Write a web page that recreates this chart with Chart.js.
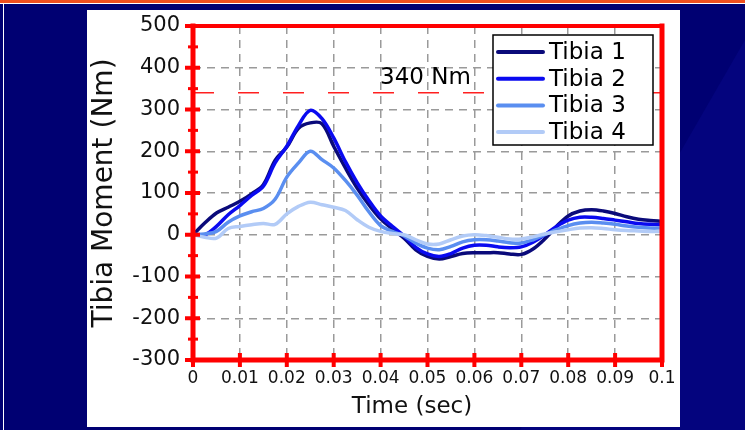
<!DOCTYPE html>
<html>
<head>
<meta charset="utf-8">
<script src="https://cdn.jsdelivr.net/npm/chart.js@4/dist/chart.umd.min.js"></script>
<style>
  html, body { margin: 0; padding: 0; background: #000070; }
  canvas { display: block; }
</style>
</head>
<body>
<canvas id="myChart" width="745" height="430"></canvas>
<script>
// time axis (sec)
var timeValues = [0, 0.0025, 0.005, 0.0075, 0.01, 0.0125, 0.015, 0.0175, 0.02, 0.0225,
  0.025, 0.0275, 0.03, 0.0325, 0.035, 0.0375, 0.04, 0.0425, 0.045, 0.0475,
  0.05, 0.0525, 0.055, 0.0575, 0.06, 0.0625, 0.065, 0.0675, 0.07, 0.0725,
  0.075, 0.0775, 0.08, 0.0825, 0.085, 0.0875, 0.09, 0.0925, 0.095, 0.0975, 0.1]

var seriesNames = ['Tibia 1', 'Tibia 2', 'Tibia 3', 'Tibia 4']
var seriesColors = ['#0a0a7a', '#0a0af0', '#5a8ef0', '#b2cbf7']

// tibia moment (Nm)
var tibia1 = [0, 28, 52, 66, 80, 98, 120, 178, 210, 255, 268, 266, 212, 160, 112, 72, 38, 14, -8, -36,
  -52, -58, -52, -45, -43, -43, -43, -46, -47, -34, -10, 20, 45, 57, 60, 57, 51, 43, 37, 34, 32]
var tibia2 = [0, 0, 20, 48, 70, 94, 116, 172, 212, 262, 298, 278, 232, 175, 125, 82, 45, 20, -3, -30,
  -46, -52, -45, -32, -25, -25, -29, -31, -29, -18, 0, 20, 35, 42, 42, 39, 35, 31, 27, 25, 24]
var tibia3 = [0, 2, 8, 30, 45, 55, 63, 85, 138, 172, 200, 180, 160, 130, 95, 55, 22, 8, -3, -20,
  -32, -36, -28, -17, -12, -12, -15, -19, -20, -12, 0, 12, 22, 28, 30, 28, 25, 21, 18, 16, 16]
var tibia4 = [0, -6, -8, 15, 20, 24, 27, 25, 50, 68, 78, 72, 66, 58, 36, 18, 8, 3, 0, -12,
  -22, -22, -12, -3, 0, -2, -6, -10, -10, -5, 2, 7, 12, 16, 17, 15, 12, 10, 9, 8, 8]

var thresholdValue = 340
var thresholdLabel = '340 Nm'

var xTickLabels = ['0', '0.01', '0.02', '0.03', '0.04', '0.05', '0.06', '0.07', '0.08', '0.09', '0.1']
var yTickLabels = ['-300', '-200', '-100', '0', '100', '200', '300', '400', '500']

var FONT = "'DejaVu Sans', 'Liberation Sans', Arial, sans-serif"

function toPoints(vals) {
  return timeValues.map(function (t, i) { return { x: t, y: vals[i] } })
}

var allSeries = [tibia1, tibia2, tibia3, tibia4]
var datasets = allSeries.map(function (vals, i) {
  return {
    label: seriesNames[i],
    data: toPoints(vals),
    borderColor: seriesColors[i],
    borderWidth: 3.5,
    pointRadius: 0,
    tension: 0.35,
    fill: false,
    order: 3 - i
  }
})
datasets.push({
  label: 'limit',
  data: [{ x: timeValues[0], y: thresholdValue }, { x: timeValues[timeValues.length - 1], y: thresholdValue }],
  borderColor: '#ff2020',
  borderWidth: 1.5,
  borderDash: [21, 24],
  pointRadius: 0,
  order: 10
})

var pagePlugin = {
  id: 'page',
  beforeDraw: function (chart) {
    var c = chart.ctx
    c.save()
    c.fillStyle = '#000072'
    c.fillRect(0, 0, 745, 430)
    // subtle diagonal shading on the right
    c.fillStyle = '#04047e'
    c.beginPath()
    c.moveTo(745, 40); c.lineTo(745, 430); c.lineTo(520, 430); c.closePath()
    c.fill()
    c.fillStyle = '#f0501e'
    c.fillRect(0, 0, 745, 3)
    c.fillStyle = '#ffffff'
    c.fillRect(0, 3, 745, 1)
    c.fillRect(3, 3, 1, 427)
    // white panel
    c.fillRect(87, 10, 593, 417)
    c.restore()
  },
  afterDraw: function (chart) {
    var c = chart.ctx
    var a = chart.chartArea
    var xs = chart.scales.x
    var ys = chart.scales.y
    c.save()
    // red frame
    c.strokeStyle = '#ff0000'
    c.lineCap = 'square'
    c.lineWidth = 4
    c.beginPath()
    c.moveTo(a.left, a.top); c.lineTo(a.right, a.top)
    c.stroke()
    c.lineWidth = 5
    c.beginPath()
    c.moveTo(a.right, a.top); c.lineTo(a.right, a.bottom)
    c.lineTo(a.left, a.bottom); c.lineTo(a.left, a.top)
    c.stroke()
    // red tick marks
    c.fillStyle = '#ff0000'
    for (var v = -300; v <= 500; v += 50) {
      var py = ys.getPixelForValue(v)
      if (v % 100 === 0) c.fillRect(a.left - 8, py - 2, 15, 4)
      else c.fillRect(a.left - 5, py - 1.5, 10, 3)
    }
    for (var k = 0; k <= 10; k++) {
      var px = xs.getPixelForValue(k / 100)
      c.fillRect(px - 2, a.bottom - 7, 4, 14)
    }
    // threshold label
    c.fillStyle = '#000000'
    c.font = '23px ' + FONT
    c.textBaseline = 'middle'
    c.textAlign = 'left'
    c.fillText(thresholdLabel, 380, 78)
    // x axis title (sits a little left of centre in the original)
    c.fillStyle = '#111111'
    c.textAlign = 'center'
    c.fillText('Time (sec)', 412, 407)
    // legend
    var lx = 493, ly = 35, lw = 160, lh = 110
    c.textAlign = 'left'
    c.fillStyle = '#ffffff'
    c.fillRect(lx, ly, lw, lh)
    c.strokeStyle = '#000000'
    c.lineWidth = 1.5
    c.strokeRect(lx, ly, lw, lh)
    c.font = '23px ' + FONT
    c.lineCap = 'round'
    for (var i = 0; i < seriesNames.length; i++) {
      var cy = ly + 17 + i * 26.7
      c.strokeStyle = seriesColors[i]
      c.lineWidth = 4
      c.beginPath()
      c.moveTo(lx + 5, cy); c.lineTo(lx + 50, cy)
      c.stroke()
      c.fillStyle = '#000000'
      c.fillText(seriesNames[i], lx + 56, cy + 1)
    }
    c.restore()
  }
}

var ctx = document.getElementById('myChart').getContext('2d')
var myChart = new Chart(ctx, {
  type: 'line',
  data: { datasets: datasets },
  options: {
    responsive: false,
    animation: false,
    devicePixelRatio: 1,
    layout: { padding: { left: 88, right: 83, top: 26, bottom: 3 } },
    plugins: { legend: { display: false }, tooltip: { enabled: false } },
    scales: {
      x: {
        type: 'linear',
        min: 0,
        max: 0.1,
        afterFit: function (s) { s.height = 67 },
        afterBuildTicks: function (s) {
          s.ticks = xTickLabels.map(function (t) { return { value: parseFloat(t) } })
        },
        ticks: {
          padding: 8,
          color: '#111111',
          font: { family: FONT, size: 17 },
          maxRotation: 0,
          autoSkip: false,
          callback: function (val, idx) { return xTickLabels[idx] }
        },
        grid: { color: '#9a9a9a', lineWidth: 1.5, drawTicks: false },
        border: { display: false, dash: [8, 6] },
        title: { display: false }
      },
      y: {
        min: -300,
        max: 500,
        afterFit: function (s) { s.width = 105 },
        afterBuildTicks: function (s) {
          s.ticks = yTickLabels.map(function (t) { return { value: parseFloat(t) } })
        },
        ticks: {
          padding: 13,
          color: '#111111',
          font: { family: FONT, size: 21 },
          callback: function (val, idx) { return yTickLabels[idx] }
        },
        grid: { color: '#9a9a9a', lineWidth: 1.5, drawTicks: false },
        border: { display: false, dash: [8, 6] },
        title: {
          display: true,
          text: 'Tibia Moment (Nm)',
          color: '#111111',
          font: { family: FONT, size: 28 },
          padding: { top: 0, bottom: 0 }
        }
      }
    }
  },
  plugins: [pagePlugin]
})
</script>
</body>
</html>
